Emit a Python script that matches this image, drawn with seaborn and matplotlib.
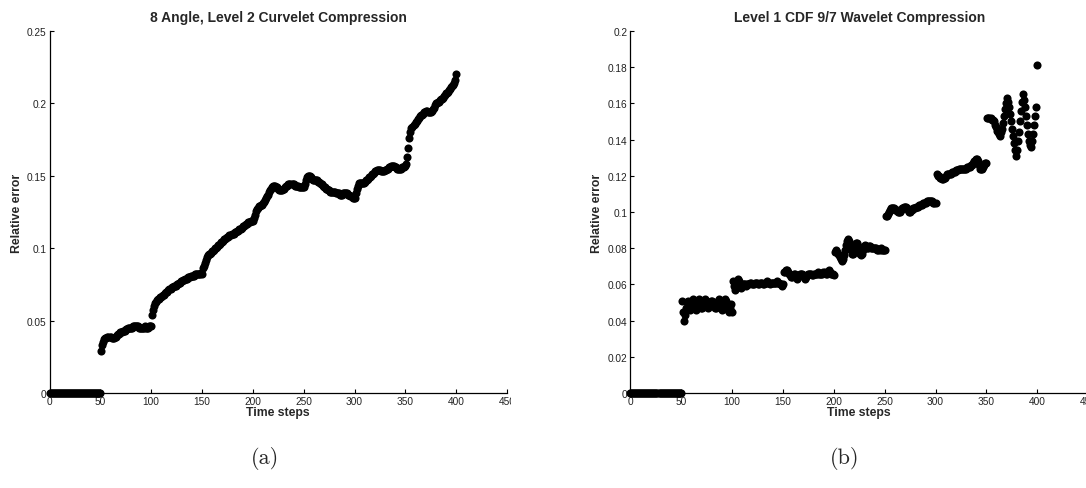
import matplotlib
matplotlib.use("Agg")
import matplotlib.pyplot as plt
import matplotlib.transforms as mtransforms
from matplotlib.ticker import FormatStrFormatter
import seaborn as sns
import numpy as np
import pandas as pd

# ---------------- data ----------------
time_steps = list(range(0, 401))

zero_phase = [0.0] * 51  # steps 0..50

curvelet_err = zero_phase + [
    0.029, 0.033, 0.035, 0.037, 0.038, 0.038, 0.039, 0.039, 0.039, 0.039,
    0.038, 0.038, 0.038, 0.039, 0.039, 0.040, 0.041, 0.041, 0.042, 0.042,
    0.042, 0.043, 0.043, 0.043, 0.044, 0.044, 0.045, 0.045, 0.045, 0.045,
    0.045, 0.046, 0.046, 0.046, 0.046, 0.046, 0.046, 0.045, 0.045, 0.045,
    0.045, 0.045, 0.045, 0.046, 0.045, 0.045, 0.045, 0.046, 0.046, 0.046,
    0.054, 0.057, 0.060, 0.062, 0.063, 0.064, 0.065, 0.065, 0.066, 0.066,
    0.067, 0.068, 0.068, 0.069, 0.070, 0.070, 0.071, 0.072, 0.072, 0.073,
    0.073, 0.074, 0.074, 0.074, 0.075, 0.075, 0.076, 0.076, 0.077, 0.077,
    0.078, 0.078, 0.079, 0.079, 0.079, 0.080, 0.080, 0.080, 0.081, 0.081,
    0.081, 0.081, 0.082, 0.082, 0.082, 0.082, 0.082, 0.082, 0.083, 0.082,
    0.086, 0.088, 0.090, 0.092, 0.094, 0.095, 0.096, 0.096, 0.097, 0.098,
    0.098, 0.099, 0.100, 0.100, 0.101, 0.102, 0.102, 0.103, 0.104, 0.104,
    0.105, 0.106, 0.106, 0.107, 0.108, 0.108, 0.109, 0.109, 0.110, 0.110,
    0.110, 0.111, 0.111, 0.112, 0.112, 0.113, 0.113, 0.113, 0.114, 0.115,
    0.115, 0.116, 0.117, 0.117, 0.118, 0.118, 0.118, 0.119, 0.119, 0.119,
    0.121, 0.123, 0.126, 0.127, 0.128, 0.129, 0.129, 0.130, 0.130, 0.131,
    0.132, 0.133, 0.135, 0.136, 0.137, 0.139, 0.140, 0.141, 0.142, 0.143,
    0.143, 0.143, 0.142, 0.142, 0.141, 0.140, 0.140, 0.140, 0.140, 0.141,
    0.141, 0.142, 0.143, 0.143, 0.144, 0.144, 0.144, 0.144, 0.144, 0.144,
    0.143, 0.143, 0.143, 0.143, 0.142, 0.142, 0.142, 0.142, 0.142, 0.142,
    0.144, 0.147, 0.149, 0.150, 0.150, 0.150, 0.149, 0.148, 0.147, 0.147,
    0.147, 0.147, 0.147, 0.146, 0.146, 0.145, 0.144, 0.144, 0.143, 0.142,
    0.142, 0.141, 0.141, 0.140, 0.140, 0.139, 0.139, 0.139, 0.139, 0.139,
    0.139, 0.138, 0.138, 0.138, 0.138, 0.137, 0.137, 0.137, 0.138, 0.138,
    0.138, 0.138, 0.138, 0.137, 0.137, 0.136, 0.136, 0.135, 0.135, 0.135,
    0.138, 0.141, 0.143, 0.145, 0.145, 0.145, 0.145, 0.145, 0.145, 0.146,
    0.147, 0.147, 0.148, 0.149, 0.149, 0.150, 0.151, 0.151, 0.152, 0.153,
    0.153, 0.154, 0.154, 0.154, 0.154, 0.153, 0.153, 0.153, 0.153, 0.154,
    0.154, 0.155, 0.155, 0.156, 0.156, 0.157, 0.157, 0.157, 0.157, 0.156,
    0.156, 0.155, 0.155, 0.155, 0.155, 0.155, 0.156, 0.156, 0.156, 0.157,
    0.158, 0.163, 0.169, 0.176, 0.180, 0.183, 0.184, 0.185, 0.186, 0.187,
    0.188, 0.189, 0.190, 0.191, 0.192, 0.192, 0.193, 0.194, 0.194, 0.195,
    0.195, 0.194, 0.194, 0.194, 0.194, 0.195, 0.196, 0.197, 0.199, 0.200,
    0.200, 0.201, 0.201, 0.202, 0.203, 0.203, 0.204, 0.205, 0.206, 0.207,
    0.207, 0.208, 0.209, 0.210, 0.211, 0.212, 0.213, 0.214, 0.216, 0.220,
]

wavelet_err = zero_phase + [
    0.051, 0.045, 0.040, 0.043, 0.047, 0.050, 0.051, 0.049, 0.046, 0.047,
    0.050, 0.052, 0.050, 0.047, 0.046, 0.048, 0.051, 0.052, 0.050, 0.047,
    0.047, 0.049, 0.051, 0.052, 0.050, 0.048, 0.047, 0.048, 0.050, 0.051,
    0.051, 0.049, 0.047, 0.047, 0.049, 0.051, 0.052, 0.050, 0.047, 0.046,
    0.047, 0.050, 0.052, 0.051, 0.048, 0.046, 0.045, 0.047, 0.049, 0.045,
    0.062, 0.059, 0.057, 0.058, 0.061, 0.063, 0.062, 0.059, 0.058, 0.059,
    0.060, 0.060, 0.060, 0.059, 0.060, 0.060, 0.060, 0.061, 0.061, 0.060,
    0.060, 0.060, 0.061, 0.061, 0.061, 0.060, 0.060, 0.061, 0.061, 0.061,
    0.060, 0.060, 0.061, 0.061, 0.062, 0.061, 0.060, 0.061, 0.061, 0.061,
    0.061, 0.061, 0.061, 0.062, 0.061, 0.061, 0.060, 0.060, 0.059, 0.060,
    0.067, 0.067, 0.068, 0.068, 0.067, 0.066, 0.065, 0.064, 0.064, 0.065,
    0.066, 0.066, 0.064, 0.063, 0.064, 0.065, 0.066, 0.066, 0.066, 0.065,
    0.064, 0.063, 0.064, 0.065, 0.066, 0.066, 0.066, 0.066, 0.065, 0.065,
    0.066, 0.066, 0.066, 0.066, 0.067, 0.066, 0.066, 0.066, 0.066, 0.067,
    0.067, 0.066, 0.066, 0.067, 0.068, 0.067, 0.066, 0.066, 0.066, 0.065,
    0.078, 0.079, 0.078, 0.077, 0.076, 0.075, 0.074, 0.073, 0.074, 0.076,
    0.079, 0.082, 0.084, 0.085, 0.084, 0.081, 0.079, 0.077, 0.077, 0.079,
    0.081, 0.083, 0.083, 0.081, 0.079, 0.077, 0.076, 0.077, 0.079, 0.081,
    0.082, 0.081, 0.080, 0.080, 0.081, 0.081, 0.080, 0.080, 0.080, 0.080,
    0.080, 0.080, 0.079, 0.079, 0.079, 0.080, 0.079, 0.079, 0.079, 0.079,
    0.098, 0.098, 0.099, 0.100, 0.101, 0.102, 0.102, 0.102, 0.102, 0.101,
    0.101, 0.101, 0.100, 0.100, 0.100, 0.101, 0.102, 0.102, 0.103, 0.103,
    0.103, 0.102, 0.101, 0.100, 0.100, 0.101, 0.101, 0.102, 0.102, 0.102,
    0.103, 0.103, 0.103, 0.104, 0.104, 0.104, 0.104, 0.105, 0.105, 0.105,
    0.105, 0.106, 0.106, 0.106, 0.106, 0.106, 0.106, 0.105, 0.105, 0.105,
    0.121, 0.120, 0.120, 0.119, 0.119, 0.118, 0.118, 0.119, 0.119, 0.120,
    0.121, 0.121, 0.121, 0.121, 0.121, 0.122, 0.122, 0.122, 0.122, 0.123,
    0.123, 0.123, 0.124, 0.124, 0.124, 0.124, 0.124, 0.124, 0.124, 0.124,
    0.125, 0.125, 0.125, 0.125, 0.126, 0.126, 0.127, 0.128, 0.128, 0.129,
    0.129, 0.128, 0.126, 0.124, 0.124, 0.124, 0.125, 0.126, 0.127, 0.127,
    0.152, 0.152, 0.152, 0.152, 0.151, 0.151, 0.150, 0.148, 0.147, 0.145,
    0.144, 0.143, 0.142, 0.144, 0.146, 0.149, 0.153, 0.157, 0.160, 0.163,
    0.161, 0.158, 0.154, 0.150, 0.146, 0.142, 0.138, 0.134, 0.131, 0.134,
    0.139, 0.144, 0.150, 0.156, 0.161, 0.165, 0.162, 0.158, 0.153, 0.148,
    0.143, 0.139, 0.137, 0.136, 0.139, 0.143, 0.148, 0.153, 0.158, 0.181,
]

titles = ["8 Angle, Level 2 Curvelet Compression",
          "Level 1 CDF 9/7 Wavelet Compression"]
captions = ["(a)", "(b)"]
x_ticks = [0, 50, 100, 150, 200, 250, 300, 350, 400, 450]
y_ticks_a = [0, 0.05, 0.1, 0.15, 0.2, 0.25]
y_ticks_b = [0, 0.02, 0.04, 0.06, 0.08, 0.1, 0.12, 0.14, 0.16, 0.18, 0.2]

# ---------------- style ----------------
sns.set_theme(style="white")
plt.rcParams['font.family'] = ['Liberation Sans', 'DejaVu Sans']
plt.rcParams['xtick.direction'] = 'in'
plt.rcParams['ytick.direction'] = 'in'

fig = plt.figure(figsize=(10.86, 4.89), dpi=100)

ax_a = fig.add_axes([0.0456, 0.1943, 0.4213, 0.7403])
ax_b = fig.add_axes([0.5801, 0.1943, 0.4220, 0.7403])

df_a = pd.DataFrame({"t": time_steps, "err": curvelet_err})
df_b = pd.DataFrame({"t": time_steps, "err": wavelet_err})

panels = [
    (ax_a, df_a, titles[0], y_ticks_a, 0.25),
    (ax_b, df_b, titles[1], y_ticks_b, 0.2),
]

for ax, df, title, yt, ymax in panels:
    sns.scatterplot(data=df, x="t", y="err", ax=ax, color="black",
                    s=34, linewidth=0, edgecolor="black", legend=False,
                    clip_on=False, zorder=5)
    ax.set_xlim(0, 450)
    ax.set_ylim(0, ymax)
    ax.set_xticks(x_ticks)
    ax.set_yticks(yt)
    ax.xaxis.set_major_formatter(FormatStrFormatter('%g'))
    ax.yaxis.set_major_formatter(FormatStrFormatter('%g'))
    ax.tick_params(axis='both', which='major', labelsize=7.3, length=3,
                   width=0.8, color='black', pad=2, labelcolor='#222222',
                   bottom=True, left=True)
    for side in ['top', 'right']:
        ax.spines[side].set_visible(False)
    for side in ['left', 'bottom']:
        ax.spines[side].set_visible(True)
        ax.spines[side].set_color('black')
        ax.spines[side].set_linewidth(0.9)
    ax.set_title(title, fontsize=10, fontweight='bold', pad=7)
    ax.set_xlabel("Time steps", fontsize=8.8, fontweight='bold', labelpad=0)
    ax.set_ylabel("Relative error", fontsize=8.8, fontweight='bold', labelpad=3)
    ax.grid(False)

# clip the left panel's last tick label like the cropped original
clip_box = mtransforms.TransformedBbox(
    mtransforms.Bbox([[0.0, 0.0], [0.4705, 1.0]]), fig.transFigure)
for tick in ax_a.xaxis.get_major_ticks():
    tick.label1.set_clip_on(True)
    tick.label1.set_clip_box(clip_box)

fig.text(0.244, 0.063, captions[0], fontsize=16, family=['cmr10', 'DejaVu Serif'],
         ha='center', va='center')
fig.text(0.778, 0.063, captions[1], fontsize=16, family=['cmr10', 'DejaVu Serif'],
         ha='center', va='center')

fig.savefig("out.png", dpi=100)
